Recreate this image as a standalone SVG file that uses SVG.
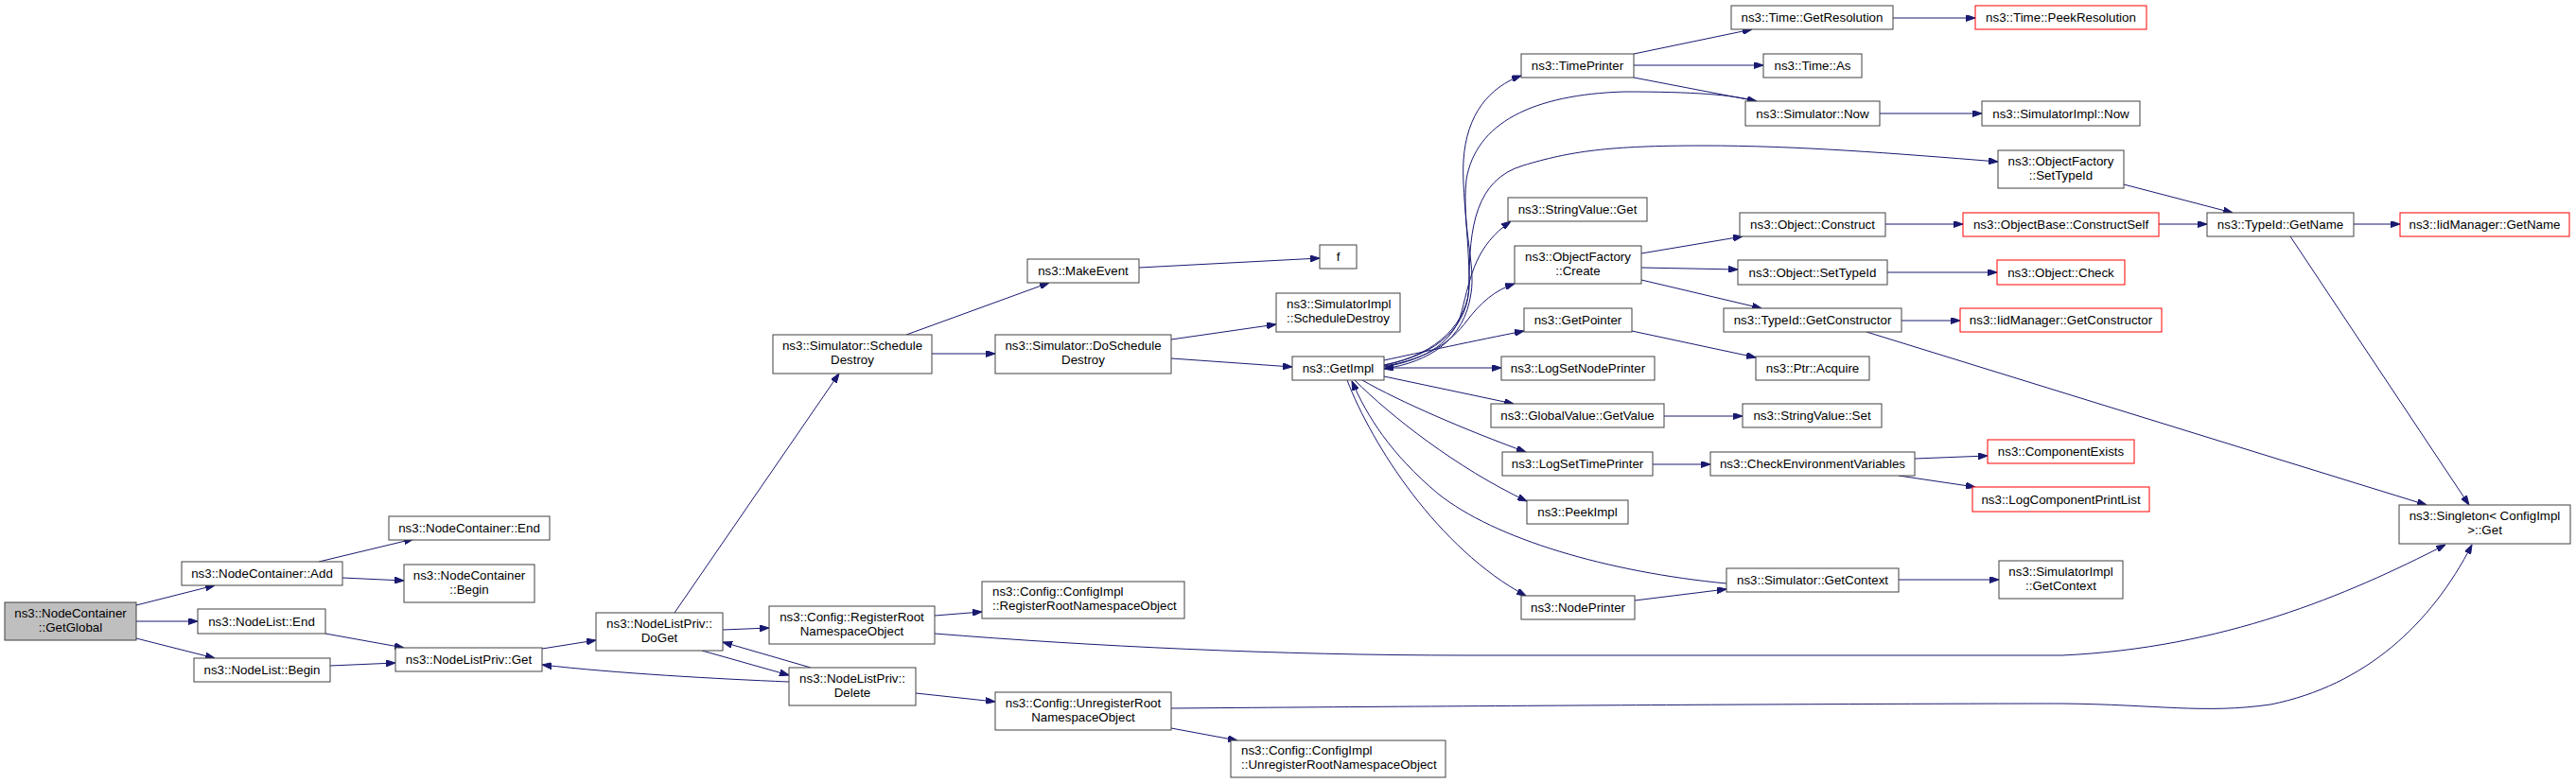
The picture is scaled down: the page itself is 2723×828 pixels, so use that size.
<svg xmlns="http://www.w3.org/2000/svg" width="2723" height="828" viewBox="0 0 2723 828">
<style>
.n rect{fill:#fff;stroke:#404040;stroke-width:1}
.n.r rect{stroke:#ff0000}
.n.root rect{fill:#bfbfbf}
text{font-family:"Liberation Sans",Arial,Helvetica,sans-serif;font-size:13.33px;fill:#000;text-anchor:middle}
text.l{text-anchor:start}
#edges path{fill:none;stroke:#191970;stroke-width:1;marker-end:url(#ah)}
</style>
<defs>
<marker id="ah" viewBox="0 0 10 7" refX="10" refY="3.5" markerWidth="10" markerHeight="7" markerUnits="userSpaceOnUse" orient="auto">
<path d="M0,0 L10,3.5 L0,7 z" fill="#191970" stroke="#191970"/>
</marker>
</defs>
<rect width="2723" height="828" fill="#fff"/>
<g id="edges">
<path d="M144,640 L227,619"/>
<path d="M144,657 L209,657"/>
<path d="M144,675 L227,696"/>
<path d="M337,594 L437,570"/>
<path d="M362,611 L427,614"/>
<path d="M344,670 L427,685"/>
<path d="M349,704 L418,701"/>
<path d="M573,686 L630,677"/>
<path d="M713,648 L887,395"/>
<path d="M764,666 L813,664"/>
<path d="M742,688 L834,714"/>
<path d="M857,706 L764,679"/>
<path d="M834,721 C760,718 650,712 573,703"/>
<path d="M958,354 L1109,299"/>
<path d="M985,374 L1052,374"/>
<path d="M1204,283 L1395,273"/>
<path d="M1238,359 L1349,343"/>
<path d="M1238,379 L1366,388"/>
<path d="M988,651 L1038,647"/>
<path d="M988,670 C1150,683 1350,693 1550,693 L2180,693 C2350,685 2480,630 2585,576"/>
<path d="M968,733 L1052,742"/>
<path d="M1238,770 L1308,783"/>
<path d="M1238,749 C1600,746 2000,744 2180,744 C2280,745 2330,755 2400,745 C2500,725 2570,660 2613,576"/>
<path d="M1463,386 C1520,375 1553,345 1553,300 C1553,250 1545,200 1547,170 C1550,120 1575,92 1608,80"/>
<path d="M1857,107 C1830,100 1790,97 1717,97 C1620,100 1560,130 1550,190 C1545,240 1560,280 1555,310 C1548,360 1510,383 1463,390"/>
<path d="M1463,386 C1520,375 1553,340 1553,300 C1553,240 1560,190 1610,175 C1660,160 1700,154 1800,154 C1900,154 2000,162 2112,171"/>
<path d="M1463,388 C1510,380 1537,360 1545,330 C1555,290 1560,260 1597,234"/>
<path d="M1463,387 C1510,380 1535,360 1550,340 C1565,320 1580,307 1601,300"/>
<path d="M1463,381 C1500,373 1560,360 1611,350"/>
<path d="M1463,389 L1587,389"/>
<path d="M1463,398 L1600,427"/>
<path d="M1440,402 C1480,425 1550,455 1613,478"/>
<path d="M1432,402 C1470,440 1540,495 1614,530"/>
<path d="M1424,402 C1450,470 1520,580 1613,630"/>
<path d="M1825,617 C1700,605 1580,570 1520,522 C1470,480 1445,440 1429,403"/>
<path d="M1727,57 L1852,31"/>
<path d="M1727,69 L1864,69"/>
<path d="M1727,82 L1857,107"/>
<path d="M2001,19 L2088,19"/>
<path d="M1987,120 L2095,120"/>
<path d="M2245,195 L2360,225"/>
<path d="M1735,268 L1842,250"/>
<path d="M1735,283 L1837,285"/>
<path d="M1735,296 L1862,326"/>
<path d="M1993,237 L2075,237"/>
<path d="M2282,237 L2333,237"/>
<path d="M2488,237 L2537,237"/>
<path d="M1995,288 L2111,288"/>
<path d="M2010,339 L2072,339"/>
<path d="M1973,351 L2565,534"/>
<path d="M2421,250 L2610,534"/>
<path d="M1725,350 L1856,378"/>
<path d="M1759,440 L1842,440"/>
<path d="M1747,491 L1808,491"/>
<path d="M2024,485 L2101,482"/>
<path d="M2007,503 L2088,515"/>
<path d="M2007,613 L2113,613"/>
<path d="M1728,635 L1825,623"/>
</g>
<g id="n0" class="n root"><rect x="5" y="637" width="139" height="40"/><text x="74.5" y="652.5">ns3::NodeContainer</text><text x="74.5" y="667.5">::GetGlobal</text></g>
<g id="n1" class="n"><rect x="192" y="594" width="170" height="25"/><text x="277" y="611">ns3::NodeContainer::Add</text></g>
<g id="n2" class="n"><rect x="209" y="644" width="135" height="26"/><text x="276.5" y="661.5">ns3::NodeList::End</text></g>
<g id="n3" class="n"><rect x="205" y="696" width="144" height="25"/><text x="277" y="713">ns3::NodeList::Begin</text></g>
<g id="n4" class="n"><rect x="411" y="546" width="170" height="25"/><text x="496" y="563">ns3::NodeContainer::End</text></g>
<g id="n5" class="n"><rect x="427" y="597" width="138" height="40"/><text x="496" y="612.5">ns3::NodeContainer</text><text x="496" y="627.5">::Begin</text></g>
<g id="n6" class="n"><rect x="418" y="685" width="155" height="25"/><text x="495.5" y="702">ns3::NodeListPriv::Get</text></g>
<g id="n7" class="n"><rect x="630" y="648" width="134" height="40"/><text x="697" y="663.5">ns3::NodeListPriv::</text><text x="697" y="678.5">DoGet</text></g>
<g id="n8" class="n"><rect x="813" y="641" width="175" height="40"/><text x="900.5" y="656.5">ns3::Config::RegisterRoot</text><text x="900.5" y="671.5">NamespaceObject</text></g>
<g id="n9" class="n"><rect x="834" y="706" width="134" height="40"/><text x="901" y="721.5">ns3::NodeListPriv::</text><text x="901" y="736.5">Delete</text></g>
<g id="n10" class="n"><rect x="817" y="354" width="168" height="41"/><text x="901" y="370">ns3::Simulator::Schedule</text><text x="901" y="385">Destroy</text></g>
<g id="n11" class="n"><rect x="1086" y="274" width="118" height="25"/><text x="1145" y="291">ns3::MakeEvent</text></g>
<g id="n12" class="n"><rect x="1052" y="354" width="186" height="41"/><text x="1145" y="370">ns3::Simulator::DoSchedule</text><text x="1145" y="385">Destroy</text></g>
<g id="n13" class="n"><rect x="1038" y="615" width="214" height="39"/><text class="l" x="1049" y="630">ns3::Config::ConfigImpl</text><text class="l" x="1049" y="645">::RegisterRootNamespaceObject</text></g>
<g id="n14" class="n"><rect x="1052" y="732" width="186" height="40"/><text x="1145" y="747.5">ns3::Config::UnregisterRoot</text><text x="1145" y="762.5">NamespaceObject</text></g>
<g id="n15" class="n"><rect x="1301" y="783" width="227" height="39"/><text class="l" x="1312" y="798">ns3::Config::ConfigImpl</text><text class="l" x="1312" y="813">::UnregisterRootNamespaceObject</text></g>
<g id="n16" class="n"><rect x="1395" y="259" width="39" height="25"/><text x="1414.5" y="276">f</text></g>
<g id="n17" class="n"><rect x="1349" y="310" width="131" height="41"/><text class="l" x="1360" y="326">ns3::SimulatorImpl</text><text class="l" x="1360" y="341">::ScheduleDestroy</text></g>
<g id="n18" class="n"><rect x="1366" y="377" width="97" height="25"/><text x="1414.5" y="394">ns3::GetImpl</text></g>
<g id="n19" class="n"><rect x="1608" y="57" width="119" height="25"/><text x="1667.5" y="74">ns3::TimePrinter</text></g>
<g id="n20" class="n"><rect x="1594" y="209" width="147" height="25"/><text x="1667.5" y="226">ns3::StringValue::Get</text></g>
<g id="n21" class="n"><rect x="1601" y="260" width="134" height="40"/><text x="1668" y="275.5">ns3::ObjectFactory</text><text x="1668" y="290.5">::Create</text></g>
<g id="n22" class="n"><rect x="1611" y="326" width="114" height="25"/><text x="1668" y="343">ns3::GetPointer</text></g>
<g id="n23" class="n"><rect x="1587" y="377" width="162" height="25"/><text x="1668" y="394">ns3::LogSetNodePrinter</text></g>
<g id="n24" class="n"><rect x="1576" y="427" width="183" height="25"/><text x="1667.5" y="444">ns3::GlobalValue::GetValue</text></g>
<g id="n25" class="n"><rect x="1588" y="478" width="159" height="25"/><text x="1667.5" y="495">ns3::LogSetTimePrinter</text></g>
<g id="n26" class="n"><rect x="1614" y="529" width="107" height="25"/><text x="1667.5" y="546">ns3::PeekImpl</text></g>
<g id="n27" class="n"><rect x="1608" y="630" width="120" height="25"/><text x="1668" y="647">ns3::NodePrinter</text></g>
<g id="n28" class="n"><rect x="1830" y="6" width="171" height="25"/><text x="1915.5" y="23">ns3::Time::GetResolution</text></g>
<g id="n29" class="n r"><rect x="2088" y="6" width="181" height="25"/><text x="2178.5" y="23">ns3::Time::PeekResolution</text></g>
<g id="n30" class="n"><rect x="1864" y="57" width="104" height="25"/><text x="1916" y="74">ns3::Time::As</text></g>
<g id="n31" class="n"><rect x="1845" y="107" width="142" height="26"/><text x="1916" y="124.5">ns3::Simulator::Now</text></g>
<g id="n32" class="n"><rect x="2095" y="107" width="167" height="26"/><text x="2178.5" y="124.5">ns3::SimulatorImpl::Now</text></g>
<g id="n33" class="n"><rect x="2112" y="159" width="133" height="40"/><text x="2178.5" y="174.5">ns3::ObjectFactory</text><text x="2178.5" y="189.5">::SetTypeId</text></g>
<g id="n34" class="n"><rect x="1839" y="225" width="154" height="25"/><text x="1916" y="242">ns3::Object::Construct</text></g>
<g id="n35" class="n r"><rect x="2075" y="225" width="207" height="25"/><text x="2178.5" y="242">ns3::ObjectBase::ConstructSelf</text></g>
<g id="n36" class="n"><rect x="1837" y="275" width="158" height="26"/><text x="1916" y="292.5">ns3::Object::SetTypeId</text></g>
<g id="n37" class="n r"><rect x="2111" y="275" width="135" height="26"/><text x="2178.5" y="292.5">ns3::Object::Check</text></g>
<g id="n38" class="n"><rect x="1822" y="326" width="188" height="25"/><text x="1916" y="343">ns3::TypeId::GetConstructor</text></g>
<g id="n39" class="n r"><rect x="2072" y="326" width="213" height="25"/><text x="2178.5" y="343">ns3::IidManager::GetConstructor</text></g>
<g id="n40" class="n"><rect x="1856" y="377" width="120" height="25"/><text x="1916" y="394">ns3::Ptr::Acquire</text></g>
<g id="n41" class="n"><rect x="1842" y="427" width="147" height="25"/><text x="1915.5" y="444">ns3::StringValue::Set</text></g>
<g id="n42" class="n"><rect x="1808" y="478" width="216" height="25"/><text x="1916" y="495">ns3::CheckEnvironmentVariables</text></g>
<g id="n43" class="n r"><rect x="2101" y="465" width="155" height="25"/><text x="2178.5" y="482">ns3::ComponentExists</text></g>
<g id="n44" class="n r"><rect x="2085" y="515" width="187" height="26"/><text x="2178.5" y="532.5">ns3::LogComponentPrintList</text></g>
<g id="n45" class="n"><rect x="1825" y="601" width="182" height="25"/><text x="1916" y="618">ns3::Simulator::GetContext</text></g>
<g id="n46" class="n"><rect x="2113" y="593" width="131" height="40"/><text x="2178.5" y="608.5">ns3::SimulatorImpl</text><text x="2178.5" y="623.5">::GetContext</text></g>
<g id="n47" class="n"><rect x="2333" y="225" width="155" height="25"/><text x="2410.5" y="242">ns3::TypeId::GetName</text></g>
<g id="n48" class="n r"><rect x="2537" y="225" width="179" height="25"/><text x="2626.5" y="242">ns3::IidManager::GetName</text></g>
<g id="n49" class="n"><rect x="2536" y="534" width="181" height="41"/><text x="2626.5" y="550">ns3::Singleton&lt; ConfigImpl</text><text x="2626.5" y="565">&gt;::Get</text></g>
</svg>
